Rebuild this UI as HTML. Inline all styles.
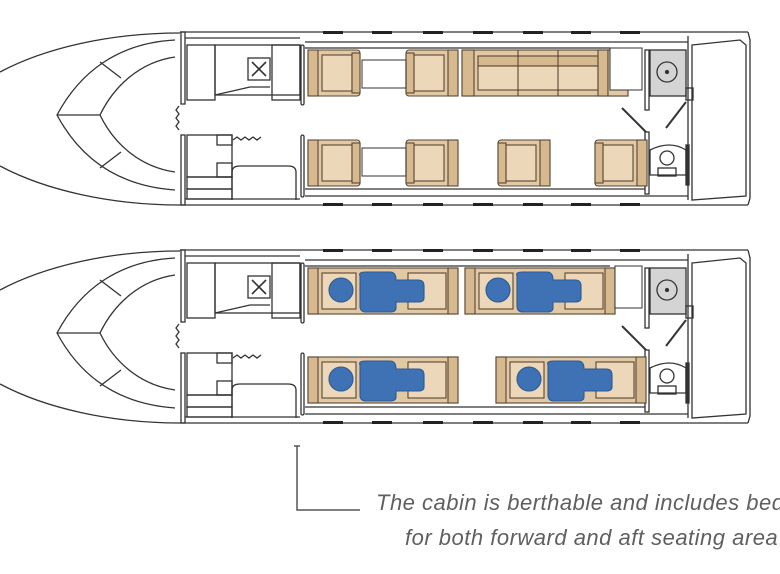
<!DOCTYPE html>
<html><head><meta charset="utf-8"><style>
html,body{margin:0;padding:0;background:#fff;width:780px;height:574px;overflow:hidden}
svg{display:block}
.t{font-family:"Liberation Sans",sans-serif;font-style:italic;font-size:22px;letter-spacing:0.5px;fill:#5f5f5f}
</style></head><body>
<svg width="780" height="574" viewBox="0 0 780 574" xmlns="http://www.w3.org/2000/svg">
<defs>
<g id="shell" fill="none" stroke="#333" stroke-width="1.3">
  <path d="M180,33 C110,33 45,48 0,72"/>
  <path d="M0,166 C45,190 110,205 180,205"/>
  <path d="M175,40 C118,43 80,72 57,115 C80,158 118,186 175,190"/>
  <path d="M175,57 C140,62 114,86 100,115 C114,144 140,167 175,172"/>
  <line x1="100" y1="62" x2="121" y2="78"/>
  <line x1="57" y1="115" x2="100" y2="115"/>
  <line x1="100" y1="168" x2="121" y2="152"/>
  <line x1="180" y1="32" x2="748" y2="32"/>
  <line x1="180" y1="205" x2="748" y2="205"/>
  <path d="M748,32 L750,40 L750,198 L748,205"/>
  <rect x="181" y="32" width="4" height="72"/>
  <rect x="181" y="135" width="4" height="70"/>
  <line x1="185" y1="38" x2="300" y2="38"/>
  <line x1="185" y1="199" x2="300" y2="199"/>
  <rect x="187" y="45" width="28" height="55"/>
  <rect x="215" y="45" width="85" height="50"/>
  <rect x="248" y="58" width="22" height="22"/>
  <path d="M252,62 L266,76 M266,62 L252,76" stroke-width="1.6"/>
  <path d="M215,95 L250,87 L270,87"/>
  <rect x="272" y="45" width="28" height="55"/>
  <path d="M179,106 l-3,4 l3,4 l-3,4 l3,4 l-3,4 l3,4"/>
  <rect x="187" y="135" width="45" height="42"/>
  <rect x="217" y="135" width="15" height="10"/>
  <rect x="217" y="163" width="15" height="14"/>
  <path d="M233,140 l4,-3 l4,3 l4,-3 l4,3 l4,-3 l4,3 l4,-3"/>
  <rect x="187" y="177" width="45" height="12"/>
  <rect x="187" y="189" width="45" height="10"/>
  <path d="M232,200 L232,172 Q232,166 240,166 L288,166 Q296,166 296,172 L296,200"/>
  <rect x="301" y="45" width="3" height="60" rx="1.5"/>
  <rect x="301" y="135" width="3" height="62" rx="1.5"/>
  <line x1="305" y1="42" x2="688" y2="42"/>
  <line x1="305" y1="48" x2="610" y2="48"/>
  <line x1="305" y1="196" x2="688" y2="196"/>
  <line x1="305" y1="189" x2="645" y2="189"/>
  <line x1="688" y1="36" x2="688" y2="200"/>
  <path d="M692,45 L740,40 L746,45 L746,196 L692,200 Z"/>
  <rect x="650" y="50" width="36" height="46" fill="#d4d4d4"/>
  <circle cx="667" cy="72" r="10"/>
  <circle cx="667" cy="72" r="1.5" fill="#333"/>
  <rect x="645" y="50" width="4" height="60"/>
  <rect x="686" y="88" width="7" height="12"/>
  <line x1="622" y1="108" x2="646" y2="132" stroke-width="2"/>
  <line x1="686" y1="102" x2="666" y2="128" stroke-width="2"/>
  <rect x="645" y="132" width="4" height="62"/>
  <path d="M650,150 Q670,140 686,150 L686,175 L650,175 Z"/>
  <circle cx="667" cy="158" r="7"/>
  <rect x="658" y="168" width="18" height="8"/>
  <rect x="686" y="145" width="3" height="40" fill="#333"/>
  <g fill="#222" stroke="none">
    <rect x="323" y="31" width="20" height="3"/><rect x="372" y="31" width="20" height="3"/>
    <rect x="423" y="31" width="20" height="3"/><rect x="473" y="31" width="20" height="3"/>
    <rect x="523" y="31" width="20" height="3"/><rect x="571" y="31" width="20" height="3"/>
    <rect x="620" y="31" width="20" height="3"/>
    <rect x="323" y="203" width="20" height="3"/><rect x="372" y="203" width="20" height="3"/>
    <rect x="423" y="203" width="20" height="3"/><rect x="473" y="203" width="20" height="3"/>
    <rect x="523" y="203" width="20" height="3"/><rect x="571" y="203" width="20" height="3"/>
    <rect x="620" y="203" width="20" height="3"/>
  </g>
</g>
<g id="seatR" stroke="#5a4632" stroke-width="1.1">
  <rect x="0" y="0" width="52" height="46" rx="3" fill="#e2c9a6"/>
  <rect x="0" y="0" width="10" height="46" fill="#d7b98f"/>
  <rect x="14" y="5" width="30" height="36" fill="#ecd7b8"/>
  <rect x="44" y="3" width="8" height="40" fill="#d7b98f"/>
</g>
<g id="seatL" stroke="#5a4632" stroke-width="1.1">
  <rect x="0" y="0" width="52" height="46" rx="3" fill="#e2c9a6"/>
  <rect x="42" y="0" width="10" height="46" fill="#d7b98f"/>
  <rect x="8" y="5" width="30" height="36" fill="#ecd7b8"/>
  <rect x="0" y="3" width="8" height="40" fill="#d7b98f"/>
</g>
<g id="berth" stroke="#5a4632" stroke-width="1.1">
  <rect x="0" y="0" width="150" height="46" fill="#e2c9a6"/>
  <rect x="0" y="0" width="10" height="46" fill="#d7b98f"/>
  <rect x="14" y="5" width="34" height="36" fill="#ecd7b8"/>
  <rect x="100" y="5" width="38" height="36" fill="#ecd7b8"/>
  <rect x="140" y="0" width="10" height="46" fill="#d7b98f"/>
  <circle cx="33" cy="22" r="12" fill="#3f72b5" stroke="#2d5a95"/>
  <path d="M52,8 Q50,4 58,4 L82,4 Q88,4 88,12 L110,12 Q116,12 116,18 L116,30 Q116,34 110,34 L88,34 L88,40 Q88,44 82,44 L58,44 Q52,44 52,38 Z" fill="#3f72b5" stroke="#2d5a95"/>
</g>
</defs>

<use href="#shell"/>
<use href="#seatR" x="308" y="50"/>
<use href="#seatL" x="406" y="50"/>
<g stroke="#5a4632" stroke-width="1.1">
  <rect x="462" y="50" width="166" height="46" fill="#e2c9a6"/>
  <rect x="462" y="50" width="12" height="46" fill="#d7b98f"/>
  <rect x="478" y="56" width="120" height="10" fill="#d7b98f"/>
  <rect x="478" y="66" width="120" height="24" fill="#ecd7b8"/>
  <line x1="518" y1="50" x2="518" y2="96"/><line x1="558" y1="50" x2="558" y2="96"/>
  <rect x="598" y="50" width="10" height="46" fill="#d7b98f"/>
  <rect x="608" y="50" width="20" height="46" fill="#e2c9a6"/>
</g>
<rect x="610" y="48" width="32" height="42" fill="#fff" stroke="#333"/>
<use href="#seatR" x="308" y="140"/>
<use href="#seatL" x="406" y="140"/>
<use href="#seatL" x="498" y="140"/>
<use href="#seatL" x="595" y="140"/>
<g fill="none" stroke="#333" stroke-width="1">
  <rect x="362" y="60" width="44" height="28"/>
  <rect x="362" y="148" width="44" height="28"/>
</g>

<g transform="translate(0,218)">
  <use href="#shell"/>
  <use href="#berth" x="308" y="50"/>
  <use href="#berth" x="465" y="50"/>
  <use href="#berth" x="308" y="139"/>
  <use href="#berth" x="496" y="139"/>
  <rect x="615" y="48" width="27" height="42" fill="#fff" stroke="#333"/>
</g>

<path d="M294,446 L300,446 M297,446 L297,510 L360,510" fill="none" stroke="#555" stroke-width="1.5"/>
<text class="t" x="376" y="510">The cabin is berthable and includes bed</text>
<text class="t" x="405" y="545">for both forward and aft seating area</text>
</svg>
</body></html>
